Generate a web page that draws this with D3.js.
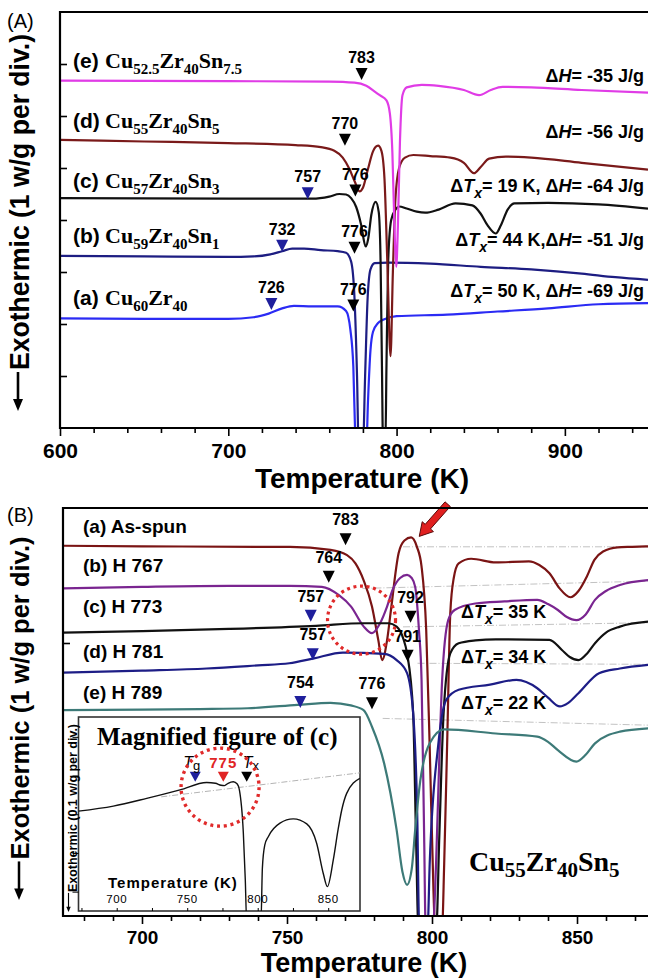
<!DOCTYPE html>
<html><head><meta charset="utf-8">
<script src="https://cdn.jsdelivr.net/npm/d3@7/dist/d3.min.js"></script>
<style>
body{margin:0;background:#fff}
text{font-family:"Liberation Sans",Arial,sans-serif}
.serif{font-family:"Liberation Serif","Times New Roman",serif}
</style></head><body>
<script>
// ---------- panel A : DSC of Cu-Zr-Sn ribbons (T in K, heat flow in div)
var majorA = [600, 700, 800, 900];
var minorA = [620, 640, 660, 680, 720, 740, 760, 780, 820, 840, 860, 880, 920, 940];
var yTicksA = [1, 2, 3, 4, 5, 6, 7];

var curveAa = [[600,2.11],[650,2.1],[700,2.1],[715,2.13],[724,2.2],[732,2.3],[739,2.35],[750,2.34],[765,2.34],[770,2.25],[772.5,1.9],[774.3,1.18],[775.3,0.0],[776.2,-0.4],[782,-0.4],[783,0.5],[784.5,1.5],[786,1.85],[789,2.02],[792,2.08],[800,2.15],[830,2.18],[860,2.24],[890,2.3],[920,2.38],[949.4,2.40]];
var curveAb = [[600,3.31],[650,3.3],[700,3.29],[715,3.3],[725,3.34],[732,3.4],[738,3.45],[745,3.45],[755,3.42],[765,3.4],[770,3.37],[773,3.2],[775,2.5],[776.5,1.0],[777.5,-0.4],[780,-0.4],[781.3,1.0],[782.8,2.5],[784.5,3.05],[787,3.17],[795,3.18],[820,3.16],[850,3.1],[880,3.05],[910,2.97],[930,2.9],[949.4,2.85]];
var curveAc = [[600,4.42],[700,4.41],[750,4.41],[760,4.45],[766,4.5],[770,4.49],[773,4.42],[776,4.25],[779,3.9],[781.6,3.49],[783.2,3.65],[785,4.1],[787.6,4.35],[789.4,4.15],[790.5,3.2],[791.3,1.2],[792,-0.4],[793.3,-0.4],[794,1.2],[795,3.2],[796.8,4.0],[799.3,4.2],[801.5,4.26],[806,4.22],[812,4.16],[817,4.14],[825,4.2],[835,4.32],[845,4.28],[850,4.12],[854,3.9],[858.9,3.74],[862,3.9],[866,4.2],[870,4.32],[890,4.33],[920,4.3],[949.4,4.22]];
var curveAd = [[600,5.54],[650,5.51],[700,5.48],[740,5.44],[755,5.40],[763,5.33],[768,5.2],[772,4.98],[775,4.75],[778,4.55],[780,4.62],[783,4.98],[786,5.32],[789,5.43],[791,5.33],[792.8,4.8],[794.5,3.2],[796.4,1.38],[797.8,3.0],[799.3,4.4],[801.5,5.0],[805,5.2],[810,5.25],[820,5.23],[832,5.2],[840,5.1],[846,4.9],[850,5.02],[855,5.18],[865,5.22],[880,5.2],[910,5.1],[949.4,4.97]];
var curveAe = [[600,6.68],[700,6.67],[760,6.66],[775,6.64],[782,6.58],[787,6.47],[790,6.4],[794,6.3],[796,6.05],[797.5,5.3],[798.8,3.8],[799.8,3.1],[800.8,3.9],[802,5.5],[803.5,6.4],[806,6.55],[815,6.6],[825,6.58],[840,6.5],[849,6.4],[856,6.5],[863,6.56],[880,6.55],[910,6.5],[949.4,6.45]];

var namesA = ["(a)", "(b)", "(c)", "(d)", "(e)"];
var formulasA = [["Cu","60","Zr","40"], ["Cu","59","Zr","40","Sn","1"], ["Cu","57","Zr","40","Sn","3"], ["Cu","55","Zr","40","Sn","5"], ["Cu","52.5","Zr","40","Sn","7.5"]];
var dTxA = ["50", "44", "19", null, null];
var dHA = ["-69", "-51", "-64", "-56", "-35"];
// markers: [T, heat flow at tip, label, kind]  kind g = Tg, x = Tx
var markersA = [[725.6,2.27,"726","g"],[774.3,2.24,"776","x"],[732,3.39,"732","g"],[775,3.35,"776","x"],[747.2,4.40,"757","g"],[775.5,4.45,"776","x"],[769.3,5.43,"770","x"],[779.2,6.69,"783","x"]];

// ---------- panel B : Cu55Zr40Sn5 after annealing
var majorB = [700, 750, 800, 850];
var minorB = [680, 690, 710, 720, 730, 740, 760, 770, 780, 790, 810, 820, 830, 840, 860, 870];
var yTicksB = [5.25];

var curveBa = [[672.8,7.12],[700,7.11],[740,7.1],[751,7.1],[765,7.04],[770.7,6.94],[773.6,6.78],[776.4,6.46],[779.3,5.95],[781.5,5.3],[782.8,4.92],[784.5,5.3],[785.7,5.82],[788.5,6.98],[790.5,7.22],[792.8,7.28],[794.8,7.1],[796.4,6.72],[798,5.5],[799.2,3.26],[800.5,0.5],[801,-0.2],[803.5,-0.2],[804.2,1.0],[805.3,3.5],[806.3,5.82],[807.5,6.5],[809.2,6.78],[813.5,6.87],[822,6.80],[833.4,6.82],[837,6.75],[840.5,6.59],[844,6.3],[847.7,6.13],[850.5,6.25],[853.4,6.53],[856,6.85],[859,7.01],[864,7.09],[869,7.1],[874.5,7.11]];
var curveBb = [[672.8,6.30],[700,6.33],[730,6.35],[751,6.35],[762,6.33],[767.9,6.17],[772.1,5.95],[776.4,5.57],[779.3,5.44],[782.1,5.63],[784.5,5.95],[786.4,6.27],[789,6.5],[791.4,6.56],[793,6.5],[794.2,6.33],[795.5,5.5],[796.4,4.54],[797.3,1.5],[797.8,-0.2],[800.3,-0.2],[801.4,1.0],[802.5,3.0],[803.5,4.54],[805.6,5.69],[807.8,5.885],[814.9,6.01],[825,6.05],[836.3,6.08],[840,6.0],[843.4,5.885],[846.5,5.75],[849.8,5.69],[853,5.8],[856.2,6.08],[860,6.25],[864.8,6.365],[874.5,6.46]];
var curveBc = [[672.8,5.45],[700,5.48],[730,5.52],[760,5.58],[776.4,5.63],[785,5.63],[787.8,5.565],[790,5.35],[791.4,5.05],[793.5,3.9],[794.5,1.5],[795.3,-0.2],[801.5,-0.2],[802.5,1.5],[804,3.9],[806.3,5.05],[809.2,5.245],[815,5.3],[822,5.32],[840.5,5.31],[844.8,5.115],[847.5,4.98],[850.5,4.92],[853.5,5.05],[856.2,5.245],[860,5.45],[864.8,5.565],[874.5,5.66]];
var curveBd = [[672.8,4.68],[700,4.72],[722.3,4.76],[740,4.82],[750.8,4.86],[759.3,4.955],[769.3,5.065],[783.5,5.04],[787.8,4.92],[791.4,4.67],[793.5,3.9],[794.9,1.975],[795.6,-0.2],[798.5,-0.2],[799.2,1.0],[802.1,3.26],[804.9,4.155],[809.2,4.35],[820,4.45],[829.1,4.54],[836.3,4.38],[840,4.2],[844.1,4.03],[847,4.1],[850.5,4.285],[857.6,4.67],[864.8,4.76],[874.5,4.83]];
var curveBe = [[672.8,3.96],[700,3.97],[720,3.98],[736.5,3.995],[753.6,4.06],[765,4.10],[772,4.05],[776.4,3.96],[779.3,3.64],[783.5,2.935],[787.8,1.655],[789.8,0.85],[791.4,0.60],[793,0.9],[794.2,1.655],[795.7,2.49],[799.2,3.32],[804.2,3.59],[822,3.51],[836.3,3.45],[840,3.35],[843.4,3.19],[849.8,2.97],[853,3.1],[856.2,3.32],[864.8,3.545],[874.5,3.61]];
// extrapolated baselines
var baseB = [[[790,7.1],[874.5,7.1]],[[776,6.3],[874.5,6.44]],[[790,5.56],[874.5,5.64]],[[795,4.86],[874.5,4.84]],[[783,3.8],[874.5,3.67]]];

var namesB = ["(a) As-spun", "(b) H 767", "(c) H 773", "(d) H 781", "(e) H 789"];
var dTxB = ["35", "34", "22"];
var markersB = [[770.2,7.13,"783","x"],[764.4,6.41,"764","x"],[758.2,5.66,"757","g"],[792.6,5.64,"792","x"],[758.9,4.92,"757","g"],[791.6,4.89,"791","x"],[754.6,4.0,"754","g"],[779.3,3.975,"776","x"]];
var circleB = [775.7, 5.69];
var arrowB = [[805.4, 7.92], [795.6, 7.3]];

// ---------- inset : magnified curve (c), 0.1 w/g per div
var ticksI = [700, 750, 800, 850];
var minorI = [675, 700, 725, 750, 775, 800, 825, 850];
var yTicksI = [0, 1, 2, 3, 4];
var curveI = [[672.9,2.08],[697.6,2.21],[721.3,2.41],[744.9,2.63],[763.8,2.82],[770,2.8],[774,2.75],[776.5,2.74],[779,2.8],[782.7,2.84],[785.5,2.78],[787,2.63],[789.8,1.52],[791.2,0.3],[792.2,-0.8],[802.3,-0.8],[803.3,0.6],[805,1.2],[807.5,1.42],[815.8,1.77],[825.2,1.88],[834.8,1.75],[841.8,1.25],[846.5,0.47],[849.4,0.13],[853.6,0.82],[857,1.6],[859.6,2.11],[863.1,2.54],[872.5,2.93]];
var baseI = [[731.6,2.45],[872.5,3.07]];
var markersI = [[755.7,2.84,"g"],[775.6,2.84,"r"],[792.2,2.84,"x"]];
var circleI = [773.3, 2.70];

var svg = d3.select("body").append("svg").attr("width", 648).attr("height", 979).style("display", "block");
svg.append("rect").attr("width", 648).attr("height", 979).attr("fill", "#fff");
var defs = svg.append("defs");
defs.append("clipPath").attr("id", "clipA").append("rect").attr("x", 60).attr("y", 12).attr("width", 588).attr("height", 416);
defs.append("clipPath").attr("id", "clipB").append("rect").attr("x", 63).attr("y", 508).attr("width", 585).attr("height", 408);
defs.append("clipPath").attr("id", "clipI").append("rect").attr("x", 78.5).attr("y", 717).attr("width", 281.5).attr("height", 194);

var markColor = {g: "#1f1f9c", x: "#000", r: "#e02424"};

function tri(g, x, y, w, h, fill) {
	g.append("path").attr("d", "M" + (x - w / 2) + "," + (y - h) + "L" + (x + w / 2) + "," + (y - h) + "L" + x + "," + y + "Z").attr("fill", fill);
}

function styleAxis(sel, size) {
	sel.select(".domain").remove();
	sel.selectAll(".tick line").attr("stroke", "#000").attr("stroke-width", 1.6);
	sel.selectAll(".tick text").attr("font-size", size).attr("font-weight", "bold").attr("fill", "#000")
		.attr("font-family", '"Liberation Sans",Arial,sans-serif');
}

function dText(g, x, y, tx, dh, anchor, size) {
	var t = g.append("text").attr("x", x).attr("y", y).attr("text-anchor", anchor)
		.attr("font-size", size).attr("font-weight", "bold");
	if (tx) {
		t.append("tspan").text("\u0394");
		t.append("tspan").attr("font-style", "italic").text("T");
		t.append("tspan").attr("font-style", "italic").attr("font-size", size - 4).attr("dy", 6).text("x");
		t.append("tspan").attr("dy", -6).text("= " + tx + " K" + (dh ? (tx == "44" ? "," : ", ") : ""));
	}
	if (dh) {
		t.append("tspan").text("\u0394");
		t.append("tspan").attr("font-style", "italic").text("H");
		t.append("tspan").text("= " + dh + " J/g");
	}
}

function formula(g, x, y, parts, size, sub, shift) {
	var t = g.append("text").attr("class", "serif").attr("x", x).attr("y", y)
		.attr("font-size", size).attr("font-weight", "bold");
	parts.forEach(function(p, i) {
		var isSub = i % 2 == 1;
		t.append("tspan").attr("font-size", isSub ? sub : size)
			.attr("dy", i == 0 ? 0 : (isSub ? shift : -shift)).text(p);
	});
}

function yTitle(g, cy, len, tip, txt, size, x, ax) {
	g.append("text").attr("transform", "translate(" + x + "," + cy + ") rotate(-90)")
		.attr("text-anchor", "middle").attr("font-size", size).attr("font-weight", "bold")
		.attr("textLength", len).attr("lengthAdjust", "spacingAndGlyphs").text(txt);
	var s = size / 27;
	g.append("line").attr("x1", ax).attr("x2", ax).attr("y1", cy + len / 2 + 2 * s).attr("y2", tip - 8 * s)
		.attr("stroke", "#000").attr("stroke-width", 2.6 * s);
	g.append("path").attr("d", "M" + (ax - 5 * s) + "," + (tip - 12 * s) + "L" + (ax + 5 * s) + "," + (tip - 12 * s) + "L" + ax + "," + tip + "Z");
}

// ================= PANEL A =================
var xA = d3.scaleLinear().domain([600, 949.4]).range([60, 648]);
var yA = d3.scaleLinear().domain([0, 8]).range([428, 12]);
var lineA = d3.line().x(function(d) { return xA(d[0]); }).y(function(d) { return yA(d[1]); }).curve(d3.curveMonotoneX);
var gA = svg.append("g");

var curvesA = [curveAa, curveAb, curveAc, curveAd, curveAe];
var colorsA = ["#2b2bf4", "#1d1d82", "#111", "#7a1a1a", "#e03ce6"];
gA.append("g").attr("clip-path", "url(#clipA)").selectAll("path").data(curvesA).join("path")
	.attr("d", lineA).attr("fill", "none").attr("stroke", function(d, i) { return colorsA[i]; })
	.attr("stroke-width", 2.2);

gA.append("g").attr("transform", "translate(0,428)")
	.call(d3.axisBottom(xA).tickValues(minorA).tickSize(5).tickFormat("")).call(styleAxis, 21);
gA.append("g").attr("transform", "translate(0,428)")
	.call(d3.axisBottom(xA).tickValues(majorA).tickSize(8).tickPadding(7).tickFormat(d3.format("d"))).call(styleAxis, 21);
gA.append("g").attr("transform", "translate(60,0)")
	.call(d3.axisRight(yA).tickValues(yTicksA).tickSize(7).tickFormat("")).call(styleAxis, 10);
gA.append("path").attr("d", "M648,12L60,12L60,428L648,428").attr("fill", "none").attr("stroke", "#000").attr("stroke-width", 2.2);

markersA.forEach(function(m) {
	var x = xA(m[0]), y = yA(m[1]);
	tri(gA, x, y, 12, 12, markColor[m[3]]);
	gA.append("text").attr("x", x).attr("y", y - 17).attr("text-anchor", "middle")
		.attr("font-size", 16).attr("font-weight", "bold").text(m[2]);
});

var labelYA = [305, 243, 188, 128, 68];
var noteYA = [297, 246, 192, 138, 82];
namesA.forEach(function(n, i) {
	gA.append("text").attr("x", 73).attr("y", labelYA[i]).attr("font-size", 21).attr("font-weight", "bold").text(n);
	formula(gA, 105, labelYA[i], formulasA[i], 22, 15, 6);
	dText(gA, 644, noteYA[i], dTxA[i], dHA[i], "end", 18);
});

gA.append("text").attr("x", 362).attr("y", 488).attr("text-anchor", "middle").attr("font-size", 28).attr("font-weight", "bold").text("Temperature (K)");
yTitle(gA, 202, 336, 411, "Exothermic (1 w/g per div.)", 27, 29, 18);
gA.append("text").attr("x", 7).attr("y", 28).attr("font-size", 20).text("(A)");

// ================= PANEL B =================
var xB = d3.scaleLinear().domain([672.76, 874.48]).range([63, 648]);
var yB = d3.scaleLinear().domain([0, 408 / 52]).range([916, 508]);
var lineB = d3.line().x(function(d) { return xB(d[0]); }).y(function(d) { return yB(d[1]); }).curve(d3.curveMonotoneX);
var gB = svg.append("g");

gB.append("g").attr("clip-path", "url(#clipB)").selectAll("path").data(baseB).join("path")
	.attr("d", d3.line().x(function(d) { return xB(d[0]); }).y(function(d) { return yB(d[1]); }))
	.attr("fill", "none").attr("stroke", "#bbb").attr("stroke-width", 0.9).attr("stroke-dasharray", "7,2,1,2");

var curvesB = [curveBa, curveBb, curveBc, curveBd, curveBe];
var colorsB = ["#7a1414", "#7a2590", "#111", "#1d1d86", "#3d7a78"];
gB.append("g").attr("clip-path", "url(#clipB)").selectAll("path").data(curvesB).join("path")
	.attr("d", lineB).attr("fill", "none").attr("stroke", function(d, i) { return colorsB[i]; })
	.attr("stroke-width", 2.2);

gB.append("g").attr("transform", "translate(0,916)")
	.call(d3.axisBottom(xB).tickValues(minorB).tickSize(5).tickFormat("")).call(styleAxis, 19);
gB.append("g").attr("transform", "translate(0,916)")
	.call(d3.axisBottom(xB).tickValues(majorB).tickSize(8).tickPadding(7).tickFormat(d3.format("d"))).call(styleAxis, 19);
gB.append("g").attr("transform", "translate(63,0)")
	.call(d3.axisRight(yB).tickValues(yTicksB).tickSize(7).tickFormat("")).call(styleAxis, 10);

markersB.forEach(function(m) {
	var x = xB(m[0]), y = yB(m[1]);
	tri(gB, x, y, 12, 12, markColor[m[3]]);
	gB.append("text").attr("x", x).attr("y", y - 20).attr("text-anchor", "middle")
		.attr("font-size", 16).attr("font-weight", "bold").text(m[2]);
});

var labelYB = [533, 572, 613, 658, 699];
namesB.forEach(function(n, i) {
	gB.append("text").attr("x", 83).attr("y", labelYB[i]).attr("font-size", 19).attr("font-weight", "bold").text(n);
});
var noteYB = [618, 663, 709];
dTxB.forEach(function(v, i) { dText(gB, 461, noteYB[i], v, null, "start", 18); });

gB.append("circle").attr("cx", xB(circleB[0])).attr("cy", yB(circleB[1])).attr("r", 34)
	.attr("fill", "none").attr("stroke", "#e02a2a").attr("stroke-width", 3.2).attr("stroke-dasharray", "3,3.6");

// red arrow to the exothermic peak
var a0 = [xB(arrowB[0][0]), yB(arrowB[0][1])], a1 = [xB(arrowB[1][0]), yB(arrowB[1][1])];
var adx = a1[0] - a0[0], ady = a1[1] - a0[1], aL = Math.hypot(adx, ady);
var ux = adx / aL, uy = ady / aL, nx = -uy, ny = ux;
var hb = [a1[0] - ux * 13, a1[1] - uy * 13];
var arrowPts = [[a0[0] + nx * 3.5, a0[1] + ny * 3.5], [hb[0] + nx * 3.5, hb[1] + ny * 3.5], [hb[0] + nx * 7.5, hb[1] + ny * 7.5], a1,
	[hb[0] - nx * 7.5, hb[1] - ny * 7.5], [hb[0] - nx * 3.5, hb[1] - ny * 3.5], [a0[0] - nx * 3.5, a0[1] - ny * 3.5]];
gB.append("path").attr("d", "M" + arrowPts.join("L") + "Z").attr("fill", "#e02020").attr("stroke", "#5a0a0a").attr("stroke-width", 1);

// ---- inset
var xI = d3.scaleLinear().domain([672.9, 872.55]).range([78.5, 360]);
var yI = d3.scaleLinear().domain([-0.5, 4.513]).range([911, 717]);
var gI = gB.append("g");
gI.append("rect").attr("x", 78.5).attr("y", 717).attr("width", 281.5).attr("height", 194)
	.attr("fill", "#fff").attr("stroke", "#333").attr("stroke-width", 1.6);
gI.append("path").attr("d", d3.line().x(function(d) { return xI(d[0]); }).y(function(d) { return yI(d[1]); })(baseI))
	.attr("stroke", "#aaa").attr("stroke-width", 0.9).attr("stroke-dasharray", "6,2,1,2").attr("fill", "none");
gI.append("path").datum(curveI).attr("clip-path", "url(#clipI)")
	.attr("d", d3.line().x(function(d) { return xI(d[0]); }).y(function(d) { return yI(d[1]); }).curve(d3.curveMonotoneX))
	.attr("fill", "none").attr("stroke", "#111").attr("stroke-width", 1.4);
gI.append("g").attr("transform", "translate(0,911)")
	.call(d3.axisTop(xI).tickValues(minorI).tickSize(3).tickFormat("")).call(styleAxis, 10);
gI.append("g").attr("transform", "translate(78.5,0)")
	.call(d3.axisLeft(yI).tickValues(yTicksI).tickSize(6).tickFormat("")).call(styleAxis, 10);
gI.selectAll(".tick line").attr("stroke-width", 1);
ticksI.forEach(function(t) {
	gI.append("text").attr("x", xI(t)).attr("y", 903).attr("text-anchor", "middle").attr("font-size", 11.5)
		.attr("letter-spacing", 0.5).text(t);
});
gI.append("text").attr("x", 108).attr("y", 888).attr("font-size", 15).attr("font-weight", "bold")
	.attr("letter-spacing", 1).text("Temperature (K)");
gI.append("text").attr("class", "serif").attr("x", 97).attr("y", 745).attr("font-size", 25).attr("font-weight", "bold")
	.text("Magnified figure of (c)");
yTitle(gI, 808, 168, 912, "Exothermic (0.1 w/g per div.)", 12, 76.5, 68.5);

markersI.forEach(function(m) { tri(gI, xI(m[0]), yI(m[1]), 11, 10, markColor[m[2]]); });
var tg = gI.append("text").attr("x", xI(markersI[0][0]) - 12).attr("y", 768).attr("font-size", 16);
tg.append("tspan").attr("font-style", "italic").text("T");
tg.append("tspan").attr("font-size", 13).attr("dy", 2).text("g");
gI.append("text").attr("x", xI(markersI[1][0])).attr("y", 768).attr("text-anchor", "middle").attr("font-size", 15)
	.attr("font-weight", "bold").attr("fill", "#e02424").attr("letter-spacing", 1).text("775");
var tx = gI.append("text").attr("x", xI(markersI[2][0]) - 4).attr("y", 768).attr("font-size", 16);
tx.append("tspan").attr("font-style", "italic").text("T");
tx.append("tspan").attr("font-size", 13).attr("dy", 2).text("x");
gI.append("circle").attr("cx", xI(circleI[0])).attr("cy", yI(circleI[1])).attr("r", 39)
	.attr("fill", "none").attr("stroke", "#e02a2a").attr("stroke-width", 3.4).attr("stroke-dasharray", "3,3.8");

gB.append("path").attr("d", "M648,508L63,508L63,916L648,916").attr("fill", "none").attr("stroke", "#000").attr("stroke-width", 2.2);
formula(gB, 469, 871, ["Cu","55","Zr","40","Sn","5"], 28, 21, 6);
gB.append("text").attr("x", 364).attr("y", 972).attr("text-anchor", "middle").attr("font-size", 27).attr("font-weight", "bold").text("Temperature (K)");
yTitle(gB, 698, 323, 900, "Exothermic (1 w/g per div.)", 26, 29, 19);
gB.append("text").attr("x", 7).attr("y", 522).attr("font-size", 20).text("(B)");
</script>
</body></html>
